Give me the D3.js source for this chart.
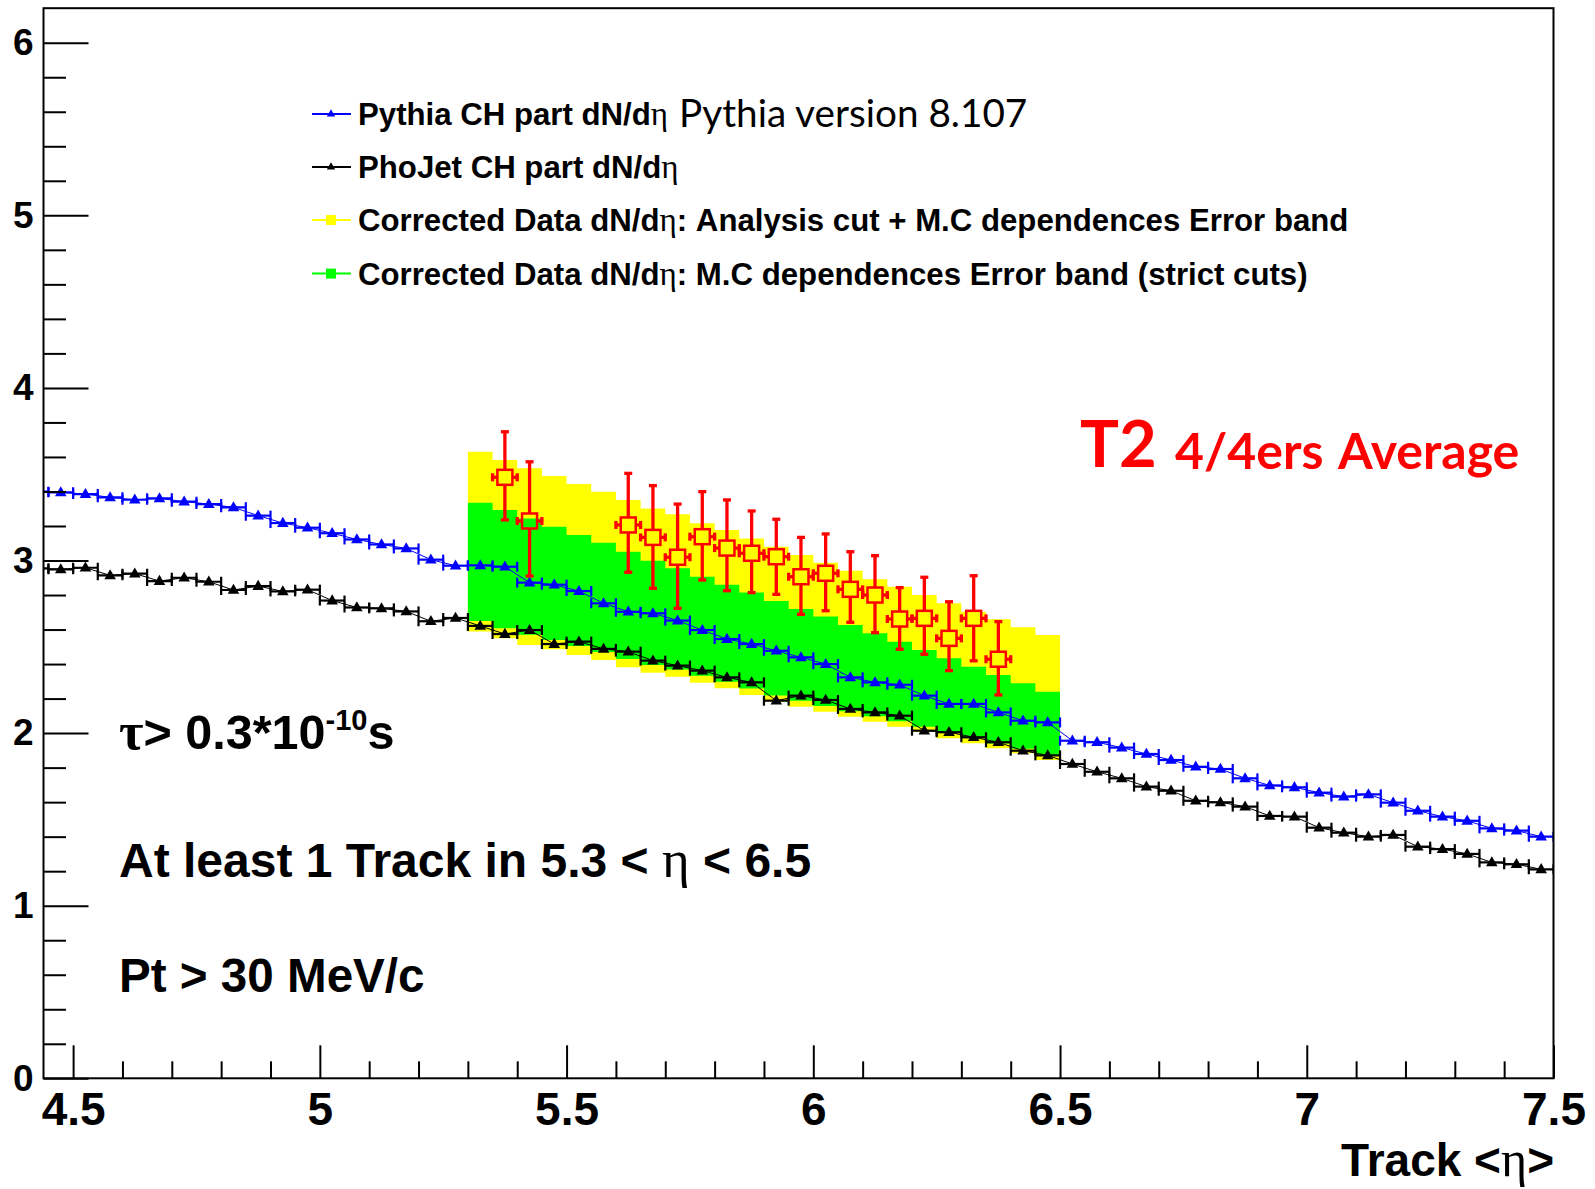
<!DOCTYPE html>
<html>
<head>
<meta charset="utf-8">
<script src="https://cdn.jsdelivr.net/npm/d3@7"></script>
<style>
  body { margin: 0; background: #fff; }
  svg { display: block; }
  text { font-family: 'Liberation Sans', Arial, sans-serif; font-weight: bold; fill: #000; }
</style>
</head>
<body>
<div id="chart"></div>
<script>
// MC histograms: bin centres (width 0.05) and dN/deta values.
var mcEta = [4.425, 4.475, 4.525, 4.575, 4.625, 4.675, 4.725, 4.775, 4.825, 4.875,
  4.925, 4.975, 5.025, 5.075, 5.125, 5.175, 5.225, 5.275, 5.325, 5.375,
  5.425, 5.475, 5.525, 5.575, 5.625, 5.675, 5.725, 5.775, 5.825, 5.875,
  5.925, 5.975, 6.025, 6.075, 6.125, 6.175, 6.225, 6.275, 6.325, 6.375,
  6.425, 6.475, 6.525, 6.575, 6.625, 6.675, 6.725, 6.775, 6.825, 6.875,
  6.925, 6.975, 7.025, 7.075, 7.125, 7.175, 7.225, 7.275, 7.325, 7.375,
  7.425, 7.475];
var pythia = [3.399, 3.395, 3.385, 3.366, 3.352, 3.360, 3.341, 3.327, 3.308, 3.260,
  3.217, 3.190, 3.158, 3.122, 3.093, 3.070, 3.005, 2.970, 2.972, 2.964,
  2.872, 2.860, 2.823, 2.752, 2.703, 2.694, 2.652, 2.597, 2.545, 2.516,
  2.477, 2.439, 2.400, 2.323, 2.294, 2.280, 2.217, 2.169, 2.169, 2.120,
  2.072, 2.062, 1.956, 1.947, 1.916, 1.879, 1.844, 1.805, 1.792, 1.738,
  1.697, 1.686, 1.655, 1.632, 1.645, 1.597, 1.550, 1.516, 1.492, 1.448,
  1.435, 1.400];
var phojet = [2.955, 2.949, 2.958, 2.914, 2.924, 2.881, 2.900, 2.877, 2.829, 2.852,
  2.821, 2.831, 2.768, 2.728, 2.723, 2.705, 2.648, 2.667, 2.621, 2.574,
  2.597, 2.516, 2.530, 2.488, 2.472, 2.420, 2.391, 2.362, 2.323, 2.294,
  2.188, 2.217, 2.192, 2.140, 2.120, 2.101, 2.014, 2.005, 1.976, 1.947,
  1.898, 1.871, 1.821, 1.776, 1.738, 1.690, 1.666, 1.608, 1.599, 1.574,
  1.520, 1.516, 1.452, 1.423, 1.400, 1.410, 1.342, 1.328, 1.300, 1.251,
  1.240, 1.211];

// Error bands on corrected data (bin centres, width 0.05).
var bandEta = [5.325, 5.375, 5.425, 5.475, 5.525, 5.575, 5.625, 5.675, 5.725, 5.775,
  5.825, 5.875, 5.925, 5.975, 6.025, 6.075, 6.125, 6.175, 6.225, 6.275,
  6.325, 6.375, 6.425, 6.475];
var yellowTop = [3.630, 3.582, 3.534, 3.490, 3.443, 3.399, 3.351, 3.302, 3.268, 3.216,
  3.177, 3.128, 3.080, 3.032, 2.987, 2.941, 2.891, 2.848, 2.800, 2.752,
  2.703, 2.659, 2.613, 2.568];
var yellowBottom = [2.588, 2.549, 2.510, 2.486, 2.452, 2.423, 2.381, 2.350, 2.327, 2.292,
  2.260, 2.221, 2.182, 2.153, 2.124, 2.095, 2.066, 2.037, 2.008, 1.970,
  1.941, 1.912, 1.883, 1.844];
var greenTop = [3.335, 3.293, 3.244, 3.196, 3.148, 3.103, 3.051, 2.999, 2.955, 2.906,
  2.860, 2.814, 2.765, 2.719, 2.675, 2.626, 2.578, 2.530, 2.481, 2.433,
  2.385, 2.337, 2.289, 2.240];
var greenBottom = [2.650, 2.607, 2.570, 2.540, 2.505, 2.470, 2.430, 2.395, 2.368, 2.333,
  2.298, 2.258, 2.218, 2.187, 2.157, 2.127, 2.097, 2.068, 2.037, 2.000,
  1.970, 1.940, 1.910, 1.870];

// T2 data points with error bars.
var dataEta = [5.375, 5.425, 5.625, 5.675, 5.725, 5.775, 5.825, 5.875, 5.925,
  5.975, 6.025, 6.075, 6.125, 6.175, 6.225, 6.275, 6.325, 6.375];
var dataValue = [3.482, 3.229, 3.206, 3.134, 3.019, 3.138, 3.072, 3.042, 3.022,
  2.906, 2.926, 2.833, 2.800, 2.661, 2.665, 2.549, 2.665, 2.428];
var dataHigh = [3.746, 3.572, 3.505, 3.434, 3.327, 3.399, 3.351, 3.287, 3.239,
  3.134, 3.154, 3.051, 3.028, 2.843, 2.903, 2.761, 2.912, 2.646];
var dataLow = [3.235, 2.910, 2.932, 2.839, 2.723, 2.887, 2.825, 2.814, 2.804,
  2.688, 2.709, 2.642, 2.582, 2.486, 2.457, 2.362, 2.419, 2.221];

// Axis ticks.
var xMajorTicks = [4.5, 5, 5.5, 6, 6.5, 7, 7.5];
var xMinorTicks = [4.6, 4.7, 4.8, 4.9, 5.1, 5.2, 5.3, 5.4, 5.6, 5.7, 5.8, 5.9,
  6.1, 6.2, 6.3, 6.4, 6.6, 6.7, 6.8, 6.9, 7.1, 7.2, 7.3, 7.4];
var yMajorTicks = [0, 1, 2, 3, 4, 5, 6];
var yMinorTicks = [0.2, 0.4, 0.6, 0.8, 1.2, 1.4, 1.6, 1.8, 2.2, 2.4, 2.6, 2.8,
  3.2, 3.4, 3.6, 3.8, 4.2, 4.4, 4.6, 4.8, 5.2, 5.4, 5.6, 5.8];

var legendLabels = ['Pythia CH part dN/dη', 'PhoJet CH part dN/dη',
  'Corrected Data dN/dη: Analysis cut + M.C dependences Error band',
  'Corrected Data dN/dη: M.C dependences Error band (strict cuts)'];

var width = 1595, height = 1189;
var halfBin = 0.025;

var svg = d3.select('#chart').append('svg')
    .attr('width', width)
    .attr('height', height);
svg.append('rect').attr('width', width).attr('height', height).attr('fill', '#fff');

var x = d3.scaleLinear().domain([4.44, 7.5]).range([43.5, 1553.5]);
var y = d3.scaleLinear().domain([0, 6.2]).range([1078.3, 8.2]);

svg.append('clipPath').attr('id', 'frame')
  .append('rect')
    .attr('x', x(4.44)).attr('y', y(6.2))
    .attr('width', x(7.5) - x(4.44)).attr('height', y(0) - y(6.2));

var plot = svg.append('g').attr('clip-path', 'url(#frame)');

// Write a string, with the eta glyph set in a serif face.
function etaText(sel, str, etaSize) {
  var parts = str.split('η');
  parts.forEach(function(p, i) {
    sel.append('tspan').text(p);
    if (i < parts.length - 1) {
      sel.append('tspan')
          .style('font-family', "'Liberation Serif', serif")
          .style('font-weight', 'normal')
          .style('font-size', etaSize + 'px')
          .text('η');
    }
  });
}

// Error bands drawn as stepped areas.
function stepPoints(top, bottom) {
  var pts = [];
  bandEta.forEach(function(e, i) {
    pts.push({x: e - halfBin, t: top[i], b: bottom[i]});
    pts.push({x: e + halfBin, t: top[i], b: bottom[i]});
  });
  return pts;
}
var band = d3.area()
    .x(function(d) { return x(d.x); })
    .y0(function(d) { return y(d.b); })
    .y1(function(d) { return y(d.t); });

plot.append('path').datum(stepPoints(yellowTop, yellowBottom))
    .attr('d', band).attr('fill', '#ffff00');
plot.append('path').datum(stepPoints(greenTop, greenBottom))
    .attr('d', band).attr('fill', '#00ff00');

// MC histogram with bin-width bars, end caps and triangle markers.
function drawHist(values, color) {
  var g = plot.append('g');
  g.append('path').datum(values)
      .attr('d', d3.line()
        .x(function(d, i) { return x(mcEta[i]); })
        .y(function(d) { return y(d); }))
      .attr('fill', 'none').attr('stroke', color).attr('stroke-width', 1);

  g.selectAll('.bar').data(values).enter().append('line')
      .attr('x1', function(d, i) { return x(mcEta[i] - halfBin); })
      .attr('x2', function(d, i) { return x(mcEta[i] + halfBin); })
      .attr('y1', function(d) { return y(d); })
      .attr('y2', function(d) { return y(d); })
      .attr('stroke', color).attr('stroke-width', 2.2);

  [-halfBin, halfBin].forEach(function(off) {
    g.selectAll(null).data(values).enter().append('line')
        .attr('x1', function(d, i) { return x(mcEta[i] + off); })
        .attr('x2', function(d, i) { return x(mcEta[i] + off); })
        .attr('y1', function(d) { return y(d) - 5; })
        .attr('y2', function(d) { return y(d) + 5; })
        .attr('stroke', color).attr('stroke-width', 2.2);
  });

  g.selectAll('.marker').data(values).enter().append('path')
      .attr('d', d3.symbol(d3.symbolTriangle, 58))
      .attr('transform', function(d, i) { return 'translate(' + x(mcEta[i]) + ',' + (y(d) + 0.5) + ')'; })
      .attr('fill', color);
}
drawHist(pythia, '#0000ff');
drawHist(phojet, '#000000');

// Data points: open squares with error bars drawn outside the marker.
var red = '#ff0000';
var half = 7.5;
var pts = plot.append('g').attr('stroke', red).attr('stroke-width', 3.3).attr('fill', 'none');
dataEta.forEach(function(e, i) {
  var cx = x(e), cy = y(dataValue[i]);
  var top = y(dataHigh[i]), bot = y(dataLow[i]);
  var xl = x(e - halfBin), xr = x(e + halfBin);
  pts.append('line').attr('x1', cx).attr('x2', cx).attr('y1', top).attr('y2', cy - half);
  pts.append('line').attr('x1', cx).attr('x2', cx).attr('y1', cy + half).attr('y2', bot);
  pts.append('line').attr('x1', xl).attr('x2', cx - half).attr('y1', cy).attr('y2', cy);
  pts.append('line').attr('x1', cx + half).attr('x2', xr).attr('y1', cy).attr('y2', cy);
  pts.append('line').attr('x1', cx - 4).attr('x2', cx + 4).attr('y1', top).attr('y2', top);
  pts.append('line').attr('x1', cx - 4).attr('x2', cx + 4).attr('y1', bot).attr('y2', bot);
  pts.append('line').attr('x1', xl).attr('x2', xl).attr('y1', cy - 4).attr('y2', cy + 4);
  pts.append('line').attr('x1', xr).attr('x2', xr).attr('y1', cy - 4).attr('y2', cy + 4);
  pts.append('rect').attr('x', cx - half).attr('y', cy - half)
      .attr('width', 2 * half).attr('height', 2 * half).attr('stroke-width', 2.5);
});

// Axes: ticks point into the frame.
var xAxisG = svg.append('g').attr('transform', 'translate(0,' + y(0) + ')');
xAxisG.call(d3.axisBottom(x).tickValues(xMajorTicks).tickSizeInner(-33).tickSizeOuter(0)
    .tickPadding(14).tickFormat(d3.format('')));
xAxisG.call(function(g) {
  g.append('g').call(d3.axisBottom(x).tickValues(xMinorTicks).tickSizeInner(-17)
      .tickSizeOuter(0).tickFormat(''));
});
xAxisG.selectAll('.domain').remove();
xAxisG.selectAll('.tick line').attr('stroke', '#000').attr('stroke-width', 2);
xAxisG.selectAll('.tick text')
    .style('font-size', '46px').style('font-weight', 'bold')
    .style('font-family', "'Liberation Sans', Arial, sans-serif").attr('fill', '#000');

var yAxisG = svg.append('g').attr('transform', 'translate(' + x(4.44) + ',0)');
yAxisG.call(d3.axisLeft(y).tickValues(yMajorTicks).tickSizeInner(-45).tickSizeOuter(0)
    .tickPadding(10).tickFormat(d3.format('d')));
yAxisG.call(function(g) {
  g.append('g').call(d3.axisLeft(y).tickValues(yMinorTicks).tickSizeInner(-22.5)
      .tickSizeOuter(0).tickFormat(''));
});
yAxisG.selectAll('.domain').remove();
yAxisG.selectAll('.tick line').attr('stroke', '#000').attr('stroke-width', 2);
yAxisG.selectAll('.tick text')
    .style('font-size', '37px').style('font-weight', 'bold')
    .style('font-family', "'Liberation Sans', Arial, sans-serif").attr('fill', '#000');

// Frame.
svg.append('rect')
    .attr('x', x(4.44)).attr('y', y(6.2))
    .attr('width', x(7.5) - x(4.44)).attr('height', y(0) - y(6.2))
    .attr('fill', 'none').attr('stroke', '#000').attr('stroke-width', 2);

// Axis title.
var xTitle = svg.append('text')
    .attr('x', 1554).attr('y', 1176)
    .attr('text-anchor', 'end')
    .style('font-size', '46px');
etaText(xTitle, 'Track <η>', 50);

// Legend.
var legendColors = ['#0000ff', '#000000', '#ffff00', '#00ff00'];
var legendRowY = [114, 167, 220, 273.6];
var legend = svg.append('g');
legendLabels.forEach(function(label, i) {
  var ly = legendRowY[i];
  legend.append('line').attr('x1', 312).attr('x2', 351).attr('y1', ly).attr('y2', ly)
      .attr('stroke', legendColors[i]).attr('stroke-width', 2);
  if (i < 2) {
    legend.append('path').attr('d', d3.symbol(d3.symbolTriangle, 30))
        .attr('transform', 'translate(331,' + ly + ')').attr('fill', legendColors[i]);
  } else {
    legend.append('rect').attr('x', 326).attr('y', ly - 5).attr('width', 10).attr('height', 10)
        .attr('fill', legendColors[i]);
  }
  var t = legend.append('text').attr('x', 358).attr('y', ly + 11).style('font-size', '31.2px');
  etaText(t, label, 33);
});
legend.append('text')
    .attr('x', 679).attr('y', 127)
    .style('font-family', "Lato, 'Open Sans', sans-serif")
    .style('font-weight', 'normal')
    .style('font-size', '38.7px')
    .text('Pythia version 8.107');

// Annotations.
var tau = svg.append('text').attr('x', 119).attr('y', 749).style('font-size', '48.5px');
tau.append('tspan').style('font-family', "'Liberation Serif', serif").style('font-size', '53px').text('τ');
tau.append('tspan').text('> 0.3*10');
tau.append('tspan').attr('dy', -19).style('font-size', '29px').text('-10');
tau.append('tspan').attr('dy', 19).text('s');

var cut = svg.append('text').attr('x', 119).attr('y', 877).style('font-size', '48px');
etaText(cut, 'At least 1 Track in 5.3 < η < 6.5', 53);

svg.append('text').attr('x', 119).attr('y', 992).style('font-size', '47.6px').text('Pt > 30 MeV/c');

var t2 = svg.append('g');
t2.append('text').attr('x', 1080).attr('y', 467)
    .style('font-family', "Lato, 'Open Sans', sans-serif").style('font-size', '65px')
    .style('fill', red).text('T2');
t2.append('text').attr('x', 1175).attr('y', 469)
    .style('font-family', "Lato, 'Open Sans', sans-serif").style('font-size', '50px')
    .style('fill', red).text('4/4ers');
t2.append('text').attr('x', 1338).attr('y', 469)
    .style('font-family', "Lato, 'Open Sans', sans-serif").style('font-size', '50px')
    .style('fill', red).text('Average');
</script>
</body>
</html>
